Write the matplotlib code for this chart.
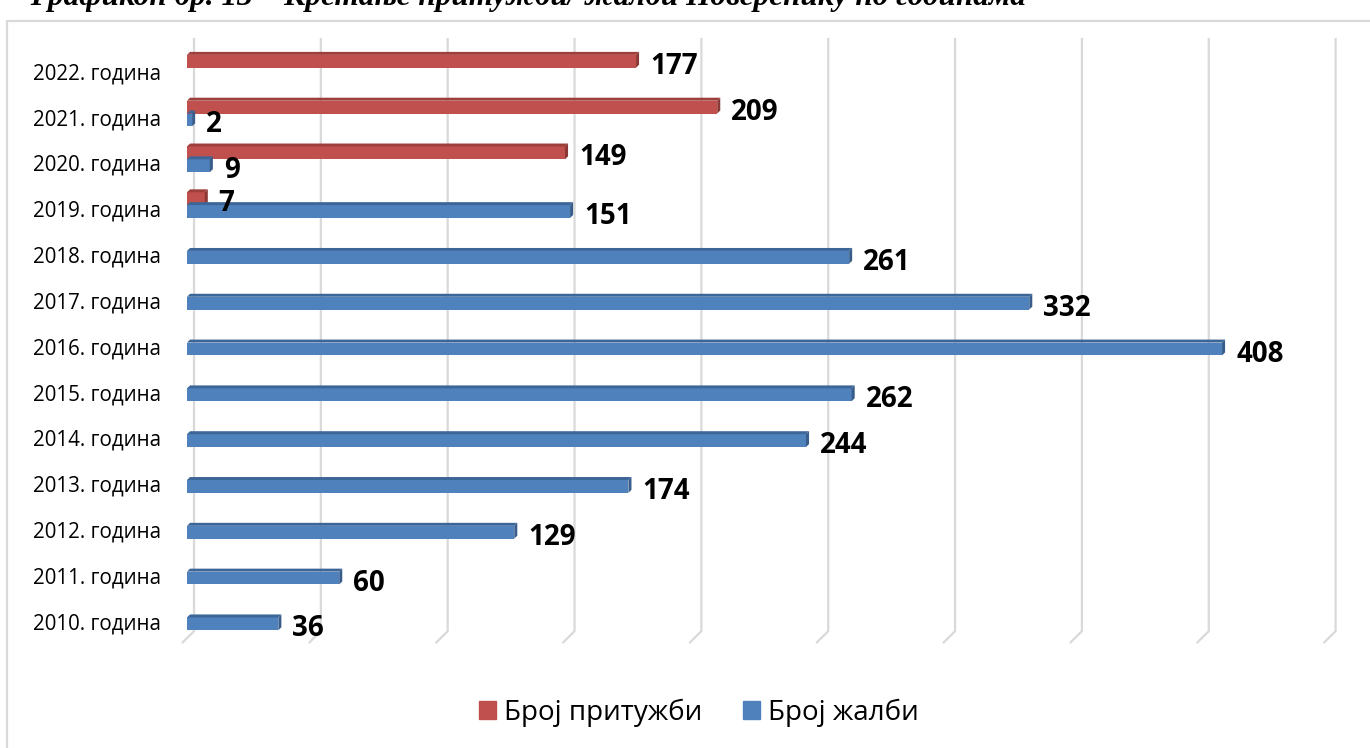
"""
Број притужби и жалби по годинама (хоризонтални стубићи са 3D ивицама)
"""

import matplotlib.pyplot as plt
import numpy as np
from matplotlib.patches import Polygon, Rectangle, Patch

#---------------------------------------------------------------------------------------------------
# Data
#---------------------------------------------------------------------------------------------------

years = ['2010', '2011', '2012', '2013', '2014', '2015', '2016', '2017', '2018', '2019', '2020',
         '2021', '2022']
year_labels = [f'{y}. година' for y in years]

# Број притужби (црвено) и број жалби (плаво); nan = нема стубића
n_complaints = [np.nan, np.nan, np.nan, np.nan, np.nan, np.nan, np.nan, np.nan, np.nan,
                7, 149, 209, 177]
n_appeals = [36, 60, 129, 174, 244, 262, 408, 332, 261, 151, 9, 2, np.nan]

series_names = ['Број притужби', 'Број жалби']

title = 'Графикон бр. 13 – Кретање притужби/ жалби Поверенику по годинама'

#---------------------------------------------------------------------------------------------------
# Style
#---------------------------------------------------------------------------------------------------

red = {'front': '#C0504D', 'top': '#9E3F3C', 'side': '#8C3836'}
blue = {'front': '#4F81BD', 'top': '#3D6698', 'side': '#385D8A'}
grid_c = '#D9D9D9'

xmax = 450
bar_h = 0.28
dx, dy = 1.2, 0.065          # depth of the bar top / side faces (data units)
wall_dx = 2.76               # gridlines sit on the back wall

plt.rcParams['font.family'] = ['Open Sans', 'DejaVu Sans']

#---------------------------------------------------------------------------------------------------
# Figure
#---------------------------------------------------------------------------------------------------

W, H = 1370, 748
fig = plt.figure(figsize=(W / 100, H / 100), dpi=100)
ax = fig.add_axes([187 / W, 1 - 644 / H, (1328.6 - 187) / W, (644 - 37) / H])
ax.set_xlim(0, xmax)
ax.set_ylim(-0.5, 12.75)

ypos = np.arange(len(years))

# back-wall gridlines with a short slanted foot on the floor
for v in range(0, xmax + 1, 50):
    ax.plot([v + wall_dx, v + wall_dx, v - 2.0], [12.73, -0.22, -0.48], color=grid_c, lw=1.6,
            zorder=1, clip_on=False, solid_capstyle='butt')


def draw_bars(values, offset, cols):
    for y, v in zip(ypos, values):
        if np.isnan(v):
            continue
        y0 = y + offset - bar_h / 2
        y1 = y + offset + bar_h / 2
        ax.barh(y + offset, v, height=bar_h, color=cols['front'], edgecolor='none', zorder=3)
        top = Polygon([(0, y1), (dx, y1 + dy), (v + dx, y1 + dy), (v, y1)], closed=True,
                      facecolor=cols['top'], edgecolor='none', zorder=3)
        side = Polygon([(v, y0), (v, y1), (v + dx, y1 + dy), (v + dx, y0 + dy)], closed=True,
                       facecolor=cols['side'], edgecolor='none', zorder=3)
        ax.add_patch(top)
        ax.add_patch(side)
        ax.text(v + 5.5, y + offset - 0.11, f'{v:.0f}', fontsize=20, fontweight='bold',
                va='center', ha='left', color='black', zorder=4)


draw_bars(n_complaints, 0.22, red)
draw_bars(n_appeals, -0.06, blue)

ax.set_yticks(ypos, year_labels)
ax.set_xticks([])
ax.tick_params(axis='y', length=0, pad=19, labelsize=14.8)
for s in ax.spines.values():
    s.set_visible(False)

# legend
handles = [Patch(color=red['front']), Patch(color=blue['front'])]
fig.legend(handles, series_names, loc='center', bbox_to_anchor=(0.5 + 14 / W, 1 - 713 / H),
           ncol=2, frameon=False, fontsize=20, handlelength=0.62, handleheight=0.62,
           handletextpad=0.3, columnspacing=1.45)

# chart frame
fig.patches.append(Rectangle((7 / W, -0.02), 1.1, (H - 21) / H + 0.02, transform=fig.transFigure,
                             fill=False, edgecolor=grid_c, lw=1.6))

# caption above the frame (only its lower part is on the page)
fig.text(30 / W, 1 - 5 / H, title, family='Liberation Serif', fontsize=22.5, fontweight='bold',
         style='italic', va='baseline', ha='left')

plt.savefig('out.png', dpi=100)
plt.close()
